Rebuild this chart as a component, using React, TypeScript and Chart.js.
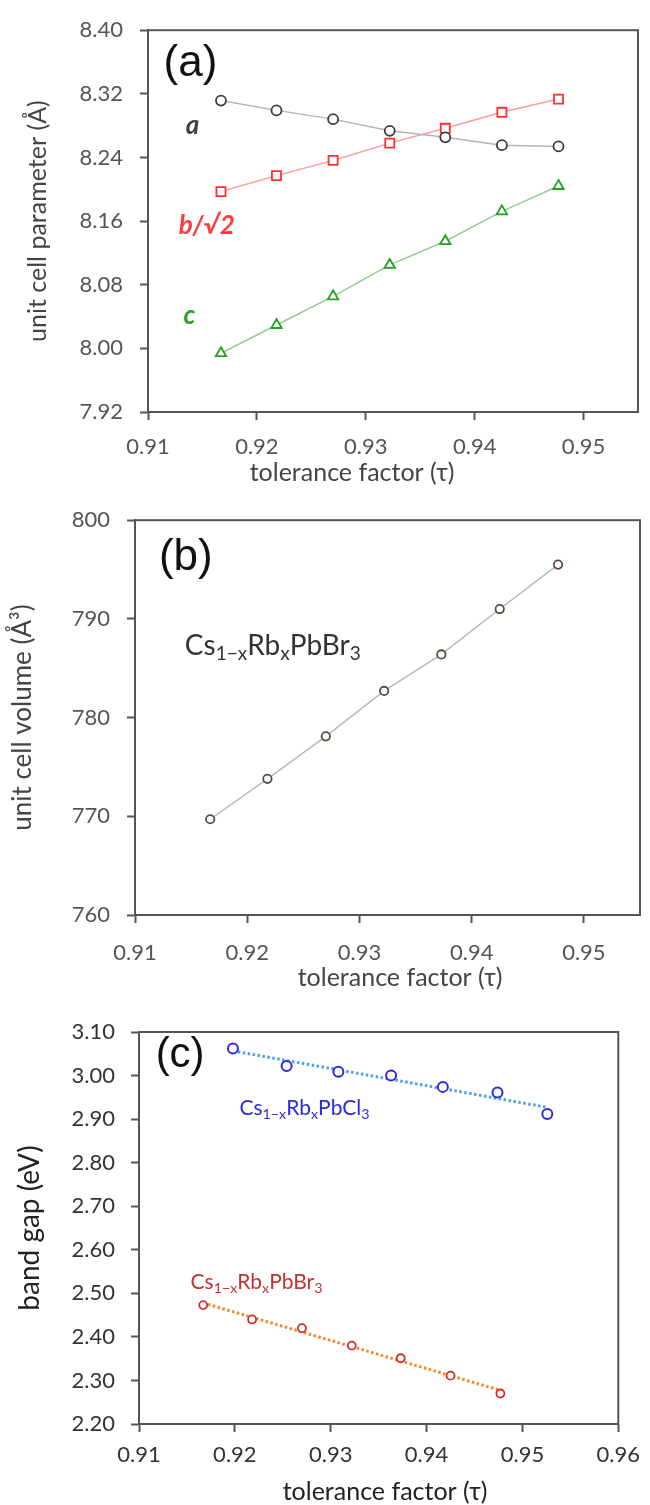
import React, { useEffect, useRef } from "react";
import { Chart, registerables } from "chart.js";
Chart.register(...registerables);

// ---------- data ----------
const TAU_BR = [0.9167, 0.9218, 0.927, 0.9322, 0.9373, 0.9425, 0.9477];
const A_PARAM = [8.3115, 8.2992, 8.2882, 8.2735, 8.2653, 8.2555, 8.2539];
const B_PARAM = [8.1971, 8.2172, 8.2363, 8.258, 8.2767, 8.2968, 8.3134];
const C_PARAM = [7.9939, 8.0294, 8.0654, 8.1049, 8.1347, 8.1722, 8.2041];
const VOLUME = [769.7, 773.8, 778.1, 782.7, 786.4, 791.0, 795.5];
const TAU_CL = [0.9198, 0.9254, 0.9308, 0.9363, 0.9417, 0.9474, 0.9526];
const GAP_CL = [3.062, 3.022, 3.009, 3.0, 2.974, 2.961, 2.912];
const GAP_BR = [2.473, 2.44, 2.42, 2.38, 2.351, 2.311, 2.27];

const AB_X_TICKS = [0.91, 0.92, 0.93, 0.94, 0.95];
const A_Y_TICKS = [7.92, 8.0, 8.08, 8.16, 8.24, 8.32, 8.4];
const B_Y_TICKS = [760, 770, 780, 790, 800];
const C_X_TICKS = [0.91, 0.92, 0.93, 0.94, 0.95, 0.96];
const C_Y_TICKS = [2.2, 2.3, 2.4, 2.5, 2.6, 2.7, 2.8, 2.9, 3.0, 3.1];

const X_TITLE = "tolerance factor (τ)";

// ---------- helpers ----------
type Part = { t: string; sub?: boolean };
type Note = {
  x: number;
  y: number;
  parts: Part[];
  family: string;
  size: number;
  color: string;
  align: "left" | "center";
  weight?: string;
  style?: string;
};

const pts = (xs: number[], ys: number[]) => xs.map((x, i) => ({ x, y: ys[i] }));

function fitLine(xs: number[], ys: number[]) {
  const n = xs.length;
  const mx = xs.reduce((a, b) => a + b, 0) / n;
  const my = ys.reduce((a, b) => a + b, 0) / n;
  let sxy = 0;
  let sxx = 0;
  for (let i = 0; i < n; i++) {
    sxy += (xs[i] - mx) * (ys[i] - my);
    sxx += (xs[i] - mx) * (xs[i] - mx);
  }
  const k = sxy / sxx;
  const x0 = xs[0];
  const x1 = xs[n - 1];
  return [
    { x: x0, y: my + k * (x0 - mx) },
    { x: x1, y: my + k * (x1 - mx) },
  ];
}

function drawNote(ctx: CanvasRenderingContext2D, n: Note, px: number, py: number) {
  ctx.save();
  ctx.fillStyle = n.color;
  ctx.textBaseline = "middle";
  ctx.textAlign = "left";
  const mainFont = `${n.style || "normal"} ${n.weight || "normal"} ${n.size}px ${n.family}`;
  const subFont = `${n.style || "normal"} ${n.weight || "normal"} ${n.size * 0.68}px ${n.family}`;
  let total = 0;
  for (const p of n.parts) {
    ctx.font = p.sub ? subFont : mainFont;
    total += ctx.measureText(p.t).width;
  }
  let x = n.align === "center" ? px - total / 2 : px;
  for (const p of n.parts) {
    ctx.font = p.sub ? subFont : mainFont;
    ctx.fillText(p.t, x, p.sub ? py + n.size * 0.3 : py);
    x += ctx.measureText(p.t).width;
  }
  ctx.restore();
}

type PanelCfg = {
  top: number;
  height: number;
  area: { l: number; r: number; t: number; b: number };
  xMin: number;
  xMax: number;
  yMin: number;
  yMax: number;
  xTicks: number[];
  yTicks: number[];
  xDigits: number;
  yDigits: number;
  yTitle: string;
  yTitleSize: number;
  yTitlePad: number;
  xTitlePos: { x: number; y: number };
  xTickPad: number;
  yTickPad: number;
  tickColor: string;
  titleColor: string;
  datasets: any[];
  notes: Note[];
};

const FAM = "Lato, 'Open Sans', sans-serif";
const ARIAL = "'Liberation Sans', Arial, sans-serif";

function Panel({ cfg }: { cfg: PanelCfg }) {
  const ref = useRef<HTMLCanvasElement | null>(null);
  useEffect(() => {
    if (!ref.current) return;
    const frame = {
      id: "frame",
      afterDraw(chart: any) {
        const { ctx, chartArea: a, scales } = chart;
        ctx.save();
        ctx.strokeStyle = "#555";
        ctx.lineWidth = 2;
        ctx.strokeRect(a.left, a.top, a.right - a.left, a.bottom - a.top);
        ctx.restore();
        for (const n of cfg.notes) {
          drawNote(ctx, n, scales.x.getPixelForValue(n.x), scales.y.getPixelForValue(n.y));
        }
        ctx.save();
        ctx.fillStyle = cfg.titleColor;
        ctx.font = `25px ${FAM}`;
        ctx.textAlign = "center";
        ctx.textBaseline = "middle";
        ctx.fillText(X_TITLE, cfg.xTitlePos.x, cfg.xTitlePos.y);
        ctx.restore();
      },
    };
    const chart = new Chart(ref.current, {
      type: "scatter",
      data: { datasets: cfg.datasets },
      plugins: [frame],
      options: {
        animation: false,
        responsive: false,
        devicePixelRatio: 1,
        layout: {
          padding: { left: 0, top: cfg.area.t, right: 650 - cfg.area.r, bottom: 0 },
        },
        plugins: { legend: { display: false }, tooltip: { enabled: false } },
        scales: {
          x: {
            type: "linear",
            min: cfg.xMin,
            max: cfg.xMax,
            afterFit: (s: any) => {
              s.height = cfg.height - cfg.area.b;
            },
            afterBuildTicks: (s: any) => {
              s.ticks = cfg.xTicks.map((v) => ({ value: v }));
            },
            ticks: {
              padding: cfg.xTickPad,
              color: cfg.tickColor,
              font: { family: FAM, size: 22 },
              maxRotation: 0,
              autoSkip: false,
              callback: (v: any) => Number(v).toFixed(cfg.xDigits),
            },
            grid: {
              display: true,
              drawOnChartArea: false,
              drawTicks: true,
              tickLength: 8,
              tickColor: "#555",
              tickWidth: 2,
            },
            border: { display: true, color: "#555", width: 2 },
          },
          y: {
            type: "linear",
            min: cfg.yMin,
            max: cfg.yMax,
            afterFit: (s: any) => {
              s.width = cfg.area.l;
            },
            afterBuildTicks: (s: any) => {
              s.ticks = cfg.yTicks.map((v) => ({ value: v }));
            },
            ticks: {
              padding: cfg.yTickPad,
              color: cfg.tickColor,
              font: { family: FAM, size: 22 },
              autoSkip: false,
              callback: (v: any) => Number(v).toFixed(cfg.yDigits),
            },
            grid: {
              display: true,
              drawOnChartArea: false,
              drawTicks: true,
              tickLength: 8,
              tickColor: "#555",
              tickWidth: 2,
            },
            border: { display: true, color: "#555", width: 2 },
            title: {
              display: true,
              text: cfg.yTitle,
              color: cfg.titleColor,
              font: { family: FAM, size: cfg.yTitleSize },
              padding: { top: cfg.yTitlePad, bottom: 0 },
            },
          },
        },
      } as any,
    });
    return () => chart.destroy();
  }, [cfg]);
  return (
    <canvas
      ref={ref}
      width={650}
      height={cfg.height}
      style={{ position: "absolute", left: 0, top: cfg.top, width: 650, height: cfg.height, display: "block" }}
    />
  );
}

const lineSeries = (data: any[], line: string, mark: string, style: string, r: number) => ({
  data,
  showLine: true,
  borderColor: line,
  borderWidth: 1.5,
  pointStyle: style,
  pointRadius: r,
  pointBorderColor: mark,
  pointBackgroundColor: "#ffffff",
  pointBorderWidth: 1.8,
});

const PANEL_A: PanelCfg = {
  top: 0,
  height: 490,
  area: { l: 148, r: 638, t: 20, b: 412 },
  xMin: 0.91,
  xMax: 0.955,
  yMin: 7.92,
  yMax: 8.4,
  xTicks: AB_X_TICKS,
  yTicks: A_Y_TICKS,
  xDigits: 2,
  yDigits: 2,
  yTitle: "unit cell parameter (Å)",
  yTitleSize: 25,
  yTitlePad: 23,
  xTitlePos: { x: 352, y: 473 },
  xTickPad: 14,
  yTickPad: 17,
  tickColor: "#555",
  titleColor: "#444",
  datasets: [
    lineSeries(pts(TAU_BR, A_PARAM), "#b4b4b4", "#3c3c3c", "circle", 5),
    lineSeries(pts(TAU_BR, B_PARAM), "#ff9c9c", "#ff3030", "rect", 6.4),
    lineSeries(pts(TAU_BR, C_PARAM), "#94cc94", "#22a022", "triangle", 6),
  ],
  notes: [
    { x: 0.9139, y: 8.358, parts: [{ t: "(a)" }], family: ARIAL, size: 44, color: "#111", align: "center" },
    { x: 0.9141, y: 8.28, parts: [{ t: "a" }], family: FAM, size: 26, color: "#404040", align: "center", style: "italic", weight: "bold" },
    { x: 0.9154, y: 8.154, parts: [{ t: "b/√2" }], family: FAM, size: 26, color: "#ff3b3b", align: "center", style: "italic", weight: "bold" },
    { x: 0.9138, y: 8.041, parts: [{ t: "c" }], family: FAM, size: 26, color: "#2ea02e", align: "center", style: "italic", weight: "bold" },
  ],
};

const PANEL_B: PanelCfg = {
  top: 490,
  height: 500,
  area: { l: 135, r: 640, t: 25, b: 425 },
  xMin: 0.91,
  xMax: 0.955,
  yMin: 760,
  yMax: 800,
  xTicks: AB_X_TICKS,
  yTicks: B_Y_TICKS,
  xDigits: 2,
  yDigits: 0,
  yTitle: "unit cell volume (Å³)",
  yTitleSize: 26,
  yTitlePad: 7.4,
  xTitlePos: { x: 400, y: 488 },
  xTickPad: 17,
  yTickPad: 17,
  tickColor: "#555",
  titleColor: "#444",
  datasets: [lineSeries(pts(TAU_BR, VOLUME), "#b8b8b8", "#5a4a42", "circle", 4.2)],
  notes: [
    { x: 0.91453, y: 796.2, parts: [{ t: "(b)" }], family: ARIAL, size: 44, color: "#111", align: "center" },
    {
      x: 0.91444,
      y: 787.3,
      parts: [{ t: "Cs" }, { t: "1−x", sub: true }, { t: "Rb" }, { t: "x", sub: true }, { t: "PbBr" }, { t: "3", sub: true }],
      family: FAM,
      size: 28,
      color: "#333",
      align: "left",
    },
  ],
};

const PANEL_C: PanelCfg = {
  top: 990,
  height: 515,
  area: { l: 139, r: 629, t: 42, b: 434 },
  xMin: 0.91,
  xMax: 0.96,
  yMin: 2.2,
  yMax: 3.1,
  xTicks: C_X_TICKS,
  yTicks: C_Y_TICKS,
  xDigits: 2,
  yDigits: 2,
  yTitle: "band gap (eV)",
  yTitleSize: 28,
  yTitlePad: 13.2,
  xTitlePos: { x: 385, y: 502 },
  xTickPad: 10,
  yTickPad: 16,
  tickColor: "#333",
  titleColor: "#222",
  datasets: [
    {
      data: pts(TAU_CL, GAP_CL),
      showLine: false,
      pointStyle: "circle",
      pointRadius: 5,
      pointBorderColor: "#2b2bdb",
      pointBackgroundColor: "#ffffff",
      pointBorderWidth: 2,
    },
    {
      data: pts(TAU_BR, GAP_BR),
      showLine: false,
      pointStyle: "circle",
      pointRadius: 4,
      pointBorderColor: "#d42a2a",
      pointBackgroundColor: "#ffffff",
      pointBorderWidth: 1.8,
    },
    {
      data: fitLine(TAU_CL, GAP_CL),
      showLine: true,
      borderColor: "#4f9fe6",
      borderWidth: 3,
      borderDash: [2.5, 2.5],
      pointRadius: 0,
    },
    {
      data: fitLine(TAU_BR, GAP_BR),
      showLine: true,
      borderColor: "#f5892a",
      borderWidth: 3,
      borderDash: [2.5, 2.5],
      pointRadius: 0,
    },
  ],
  notes: [
    { x: 0.91429, y: 3.0455, parts: [{ t: "(c)" }], family: ARIAL, size: 42, color: "#111", align: "center" },
    {
      x: 0.92048,
      y: 2.926,
      parts: [{ t: "Cs" }, { t: "1−x", sub: true }, { t: "Rb" }, { t: "x", sub: true }, { t: "PbCl" }, { t: "3", sub: true }],
      family: FAM,
      size: 21,
      color: "#2a2ae0",
      align: "left",
    },
    {
      x: 0.91538,
      y: 2.526,
      parts: [{ t: "Cs" }, { t: "1−x", sub: true }, { t: "Rb" }, { t: "x", sub: true }, { t: "PbBr" }, { t: "3", sub: true }],
      family: FAM,
      size: 21,
      color: "#c83030",
      align: "left",
    },
  ],
};

export default function App() {
  return (
    <div style={{ position: "absolute", left: 0, top: 0, width: 650, height: 1505, background: "#fff" }}>
      <Panel cfg={PANEL_A} />
      <Panel cfg={PANEL_B} />
      <Panel cfg={PANEL_C} />
    </div>
  );
}
